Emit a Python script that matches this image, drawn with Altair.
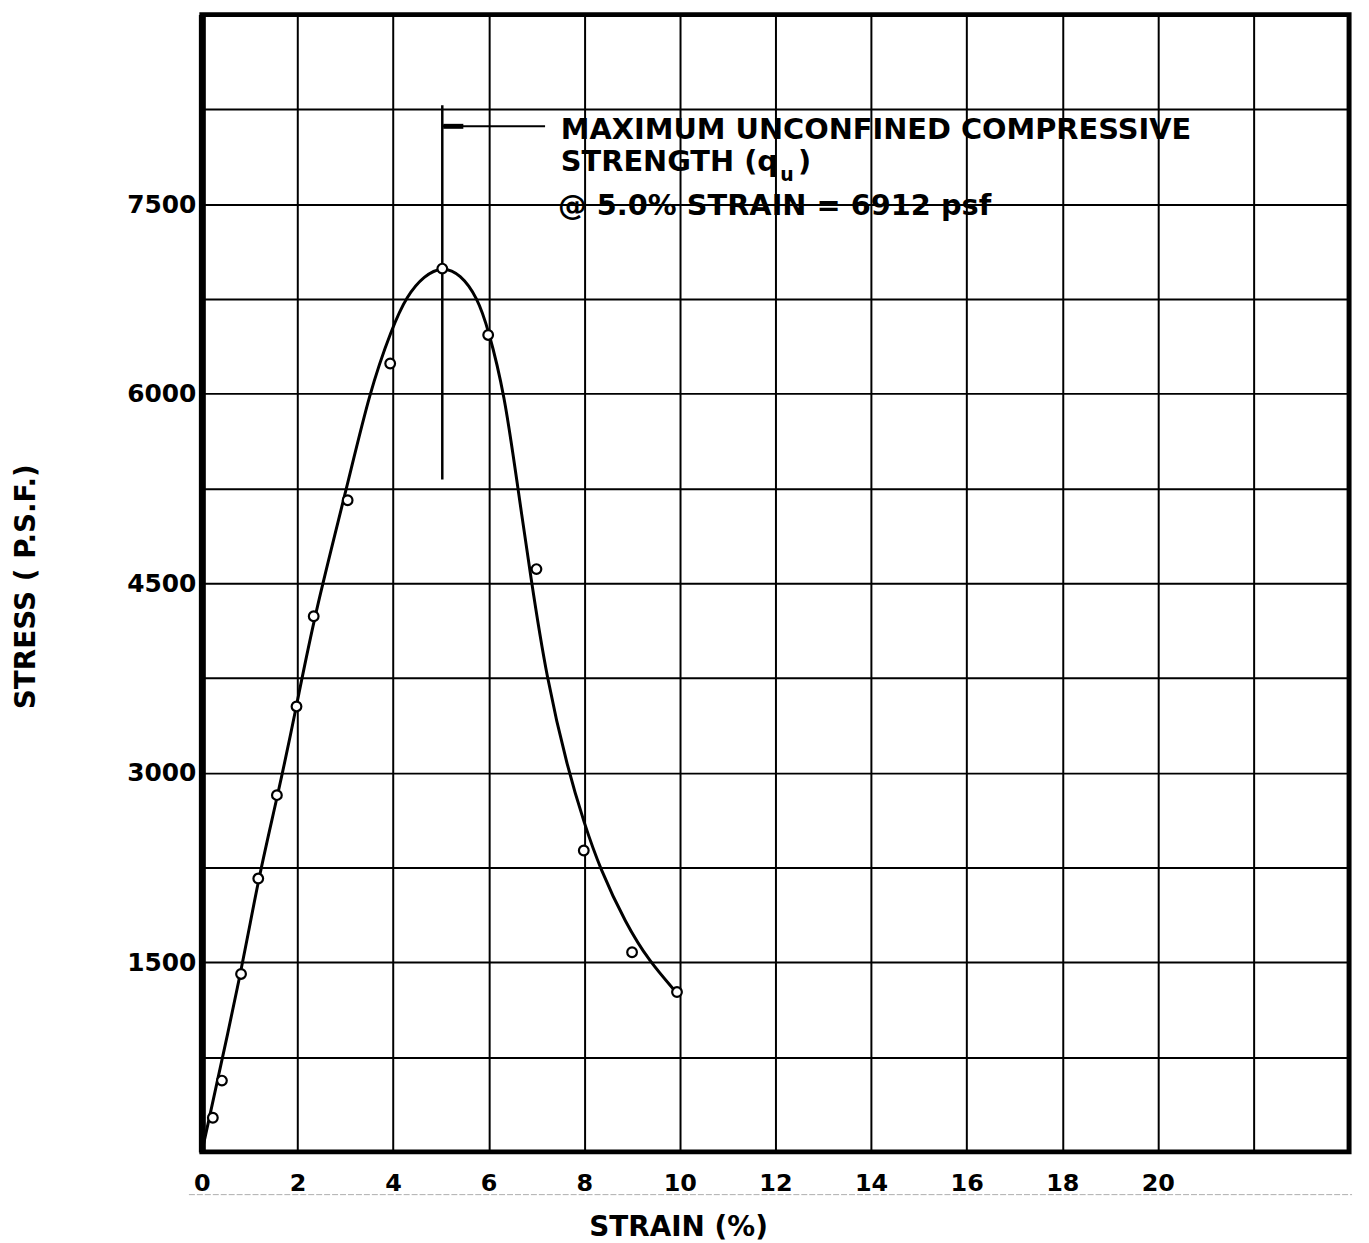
import altair as alt
import pandas as pd

# Measured test points (strain %, stress psf)
point_strain = [0.23, 0.42, 0.82, 1.18, 1.57, 1.98, 2.34, 3.05, 3.94, 5.03, 5.99, 7.00, 7.99, 9.0, 9.94]
point_stress = [270, 564, 1408, 2163, 2823, 3525, 4239, 5157, 6239, 6990, 6465, 4612, 2385, 1580, 1265]

# Hand-drawn fitted curve
curve_strain = [0.0, 0.82, 1.18, 1.59, 1.98, 2.35, 3.05, 3.51, 3.97, 4.29, 4.65, 5.03,
                5.41, 5.76, 5.99, 6.33, 6.61, 6.88, 7.21, 7.66, 8.00, 8.32, 8.87, 9.36, 9.92]
curve_stress = [0, 1410, 2163, 2823, 3525, 4239, 5282, 6016, 6514, 6776, 6934, 7007,
                6946, 6763, 6514, 6003, 5256, 4550, 3750, 3020, 2600, 2250, 1805, 1508, 1265]

x_grid = list(range(0, 25, 2))
y_grid = list(range(0, 9001, 750))

# Annotation (data coordinates)
peak_line_x = [5.03]
peak_line_y = [5322]
peak_line_y2 = [8283]
arrow_x = [5.03]
arrow_x2 = [7.18]
arrow_y = [8116]
head_x = [5.05]
head_x2 = [5.47]
ann_lines = ["MAXIMUM UNCONFINED COMPRESSIVE", "STRENGTH (q", "@ 5.0% STRAIN = 6912 psf"]
ann_x = [7.51, 7.51, 7.45]
ann_y = [8013, 7762, 7416]
sub_text = ["u"]
sub_x = [12.10]
sub_y = [7683]
close_text = [")"]
close_x = [12.47]
close_y = [7762]

FONT = "DejaVu Sans"

pts = pd.DataFrame({"strain": point_strain, "stress": point_stress})
crv = pd.DataFrame({"strain": curve_strain, "stress": curve_stress})

xs = alt.Scale(domain=[0, 24], nice=False)
ys = alt.Scale(domain=[0, 9000], nice=False)

curve = alt.Chart(crv).mark_line(color="black", strokeWidth=3, interpolate="basis").encode(
    x=alt.X("strain:Q", scale=xs,
            axis=alt.Axis(values=x_grid, grid=True, gridColor="black", gridWidth=2, gridOpacity=1,
                          ticks=False, domain=False,
                          labelExpr="datum.value <= 20 ? datum.label : ''",
                          labelFont=FONT, labelFontSize=24, labelFontWeight="bold", labelColor="black",
                          labelPadding=20, labelFlush=False,
                          title="STRAIN (%)", titleFont=FONT, titleFontSize=28, titleFontWeight="bold",
                          titleColor="black", titleX=479, titleY=76, titleAlign="center",
                          titleBaseline="middle")),
    y=alt.Y("stress:Q", scale=ys,
            axis=alt.Axis(values=y_grid, grid=True, gridColor="black", gridWidth=2, gridOpacity=1,
                          ticks=False, domain=True, domainColor="black", domainWidth=7,
                          labelExpr="(datum.value % 1500 == 0 && datum.value > 0 && datum.value < 9000) ? datum.label : ''",
                          format="d",
                          labelFont=FONT, labelFontSize=25, labelFontWeight="bold", labelColor="black",
                          labelPadding=6, labelFlush=False,
                          title="STRESS ( P.S.F.)", titleFont=FONT, titleFontSize=28, titleFontWeight="bold",
                          titleColor="black", titleX=-176, titleY=575, titleAngle=270,
                          titleAlign="center", titleBaseline="middle")),
)

points = alt.Chart(pts).mark_point(shape="circle", size=95, filled=True, fill="white",
                                   stroke="black", strokeWidth=2.2, opacity=1).encode(
    x=alt.X("strain:Q", scale=xs), y=alt.Y("stress:Q", scale=ys))

vline = alt.Chart(pd.DataFrame({"x": peak_line_x, "y": peak_line_y, "y2": peak_line_y2})).mark_rule(
    color="black", strokeWidth=2.5).encode(
    x=alt.X("x:Q", scale=xs), y=alt.Y("y:Q", scale=ys), y2="y2:Q")

hline = alt.Chart(pd.DataFrame({"x": arrow_x, "x2": arrow_x2, "y": arrow_y})).mark_rule(
    color="black", strokeWidth=2).encode(
    x=alt.X("x:Q", scale=xs), x2="x2:Q", y=alt.Y("y:Q", scale=ys))

head = alt.Chart(pd.DataFrame({"x": head_x, "x2": head_x2, "y": arrow_y})).mark_rule(
    color="black", strokeWidth=5).encode(
    x=alt.X("x:Q", scale=xs), x2="x2:Q", y=alt.Y("y:Q", scale=ys))

ann = alt.Chart(pd.DataFrame({"x": ann_x, "y": ann_y, "t": ann_lines})).mark_text(
    align="left", baseline="alphabetic", font=FONT, fontSize=29, fontWeight="bold", color="black").encode(
    x=alt.X("x:Q", scale=xs), y=alt.Y("y:Q", scale=ys), text="t:N")

sub = alt.Chart(pd.DataFrame({"x": sub_x, "y": sub_y, "t": sub_text})).mark_text(
    align="left", baseline="alphabetic", font=FONT, fontSize=19, fontWeight="bold", color="black").encode(
    x=alt.X("x:Q", scale=xs), y=alt.Y("y:Q", scale=ys), text="t:N")

close = alt.Chart(pd.DataFrame({"x": close_x, "y": close_y, "t": close_text})).mark_text(
    align="left", baseline="alphabetic", font=FONT, fontSize=29, fontWeight="bold", color="black").encode(
    x=alt.X("x:Q", scale=xs), y=alt.Y("y:Q", scale=ys), text="t:N")

# faint scanner line under the tick labels
scan = alt.Chart(pd.DataFrame({"a": [0]})).mark_rule(
    color="#777777", strokeWidth=1, strokeDash=[6, 2], opacity=0.6).encode(
    x=alt.value(-13), x2=alt.value(1157), y=alt.value(1187))

chart = alt.layer(curve, vline, hline, head, points, ann, sub, close, scan).properties(
    width=1154, height=1144,
    autosize=alt.AutoSizeParams(type="none"),
    padding={"left": 195, "top": 3, "right": 12, "bottom": 88},
    background="white",
).configure_view(stroke="black", strokeWidth=5)

chart.save("out.html", embed_options={"renderer": "svg", "actions": False})
